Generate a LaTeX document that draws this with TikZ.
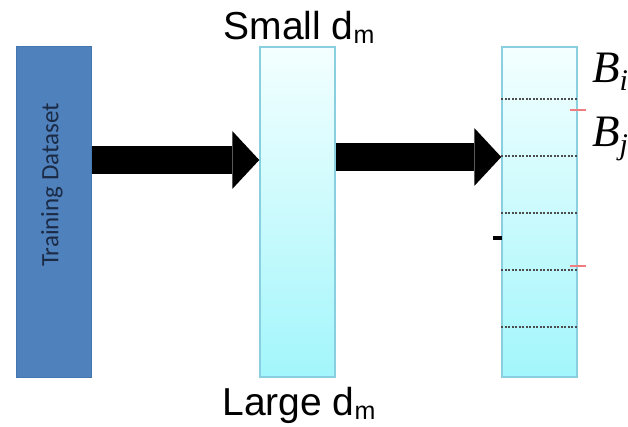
\RequirePackage{fix-cm}
\documentclass[tikz,border=0pt]{standalone}
\usepackage{fontspec}
\setmainfont{Liberation Sans}
\newfontfamily\calibri{Carlito}
\newfontfamily\binserif{Liberation Serif}
\usetikzlibrary{arrows.meta}

\definecolor{dsblue}{HTML}{4F81BD}
\definecolor{dsedge}{HTML}{4676B0}
\definecolor{dstext}{HTML}{1C2B45}
\definecolor{dmedge}{HTML}{8ACFDF}
\definecolor{dmtop}{HTML}{F4FFFF}
\definecolor{dmbot}{HTML}{A2F6FB}
\definecolor{cutred}{HTML}{F07C80}

\tikzset{
  datacol/.style={draw=dsedge, fill=dsblue, line width=1pt, minimum width=75pt, minimum height=330pt, inner sep=0pt},
  dmcol/.style={draw=dmedge, line width=1.5pt, top color=dmtop, bottom color=dmbot, minimum width=75pt, minimum height=330pt, inner sep=0pt},
  blockarrow/.style={line width=28pt, -{Triangle[length=27pt,width=58pt,line width=0pt]}},
  binline/.style={gray!60!black, line width=2pt, dash pattern=on 2pt off 1.5pt},
  bigsans/.style={font=\fontsize{39}{42}\selectfont, anchor=base},
  binlabel/.style={anchor=base west, inner sep=0pt, font=\binserif\itshape\fontsize{45}{45}\selectfont},
}
\newcommand{\dsub}{d\raisebox{-4pt}{\fontsize{25}{25}\selectfont m}}
\newcommand{\bsub}[1]{B\raisebox{-8pt}{\fontsize{30}{30}\selectfont #1}}

\begin{document}
\begin{tikzpicture}[x=1pt, y=-1pt]
\useasboundingbox (0,0) rectangle (628,427);
\clip (0,0) rectangle (628,427);

% the three columns
\node[datacol] (dataset) at (53.5,212) {};
\node[text=dstext, rotate=90, font=\calibri\fontsize{25}{26}\selectfont] (dslabel) at (52,185) {Training Dataset};
\node[dmcol] (dm) at (297.5,212) {};
\node[dmcol] (bins) at (539.5,212) {};

% dotted bin boundaries
\foreach \k in {0,...,4}
  \draw[binline] ([yshift={-53pt-57pt*\k}]bins.north west) -- ([yshift={-53pt-57pt*\k}]bins.north east);

% arrows
\draw[blockarrow] ([yshift=52pt]dataset.east) -- ([yshift=52pt]dm.west);
\draw[blockarrow] ([yshift=55pt]dm.east) -- ([yshift=55pt]bins.west);

% labels
\node[bigsans] (small) at (299,40) {Small \dsub};
\node[bigsans] (large) at (299,415) {Large \dsub};
\node[binlabel] (bi) at (592,83) {\bsub{i}};
\node[binlabel] (bj) at (592,147) {\bsub{j}};

% marks
\draw[cutred, line width=2pt] (570,110) -- (586,110);
\draw[cutred, line width=2pt] (570,266) -- (586,266);
\draw[black, line width=4pt] (493,238) -- (502,238);
\end{tikzpicture}
\end{document}
